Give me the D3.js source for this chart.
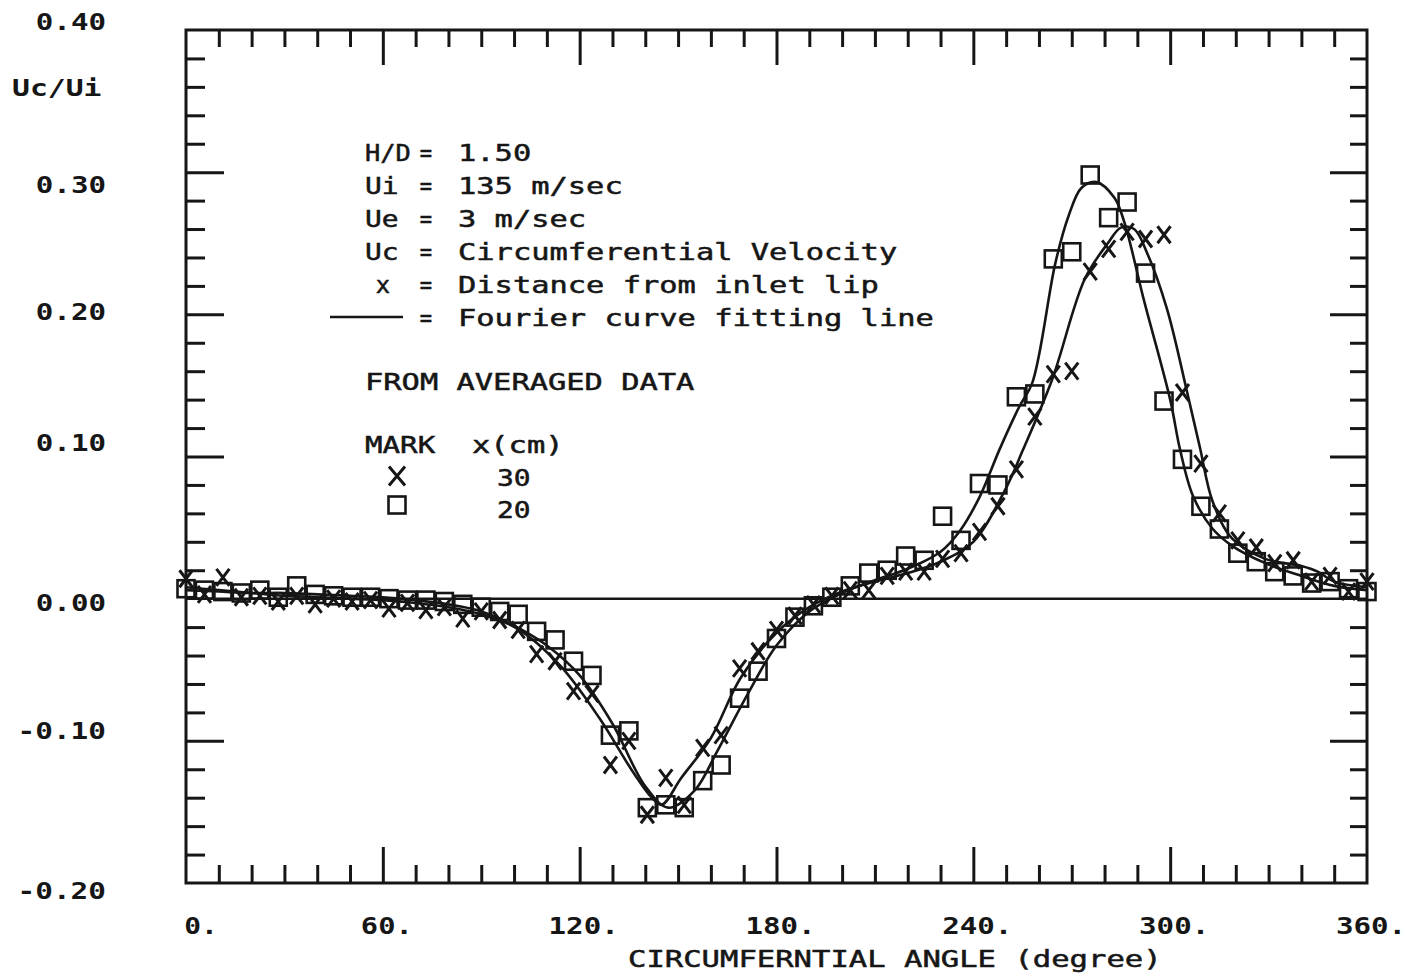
<!DOCTYPE html>
<html>
<head>
<meta charset="utf-8">
<script src="https://cdn.jsdelivr.net/npm/d3@7"></script>
<style>
  html, body { margin: 0; padding: 0; background: #fff; }
  svg { display: block; }
  text { font-family: "DejaVu Sans Mono", "Liberation Mono", monospace; fill: #161616; }
</style>
</head>
<body>
<svg id="chart" width="1405" height="979"></svg>
<script>
// ===== DATA =====
// measurement angles (degree), 64 stations round the inlet
const angles = [0, 5.625, 11.25, 16.875, 22.5, 28.125, 33.75, 39.375, 45, 50.625, 56.25, 61.875,
  67.5, 73.125, 78.75, 84.375, 90, 95.625, 101.25, 106.875, 112.5, 118.125, 123.75, 129.375,
  135, 140.625, 146.25, 151.875, 157.5, 163.125, 168.75, 174.375, 180, 185.625, 191.25, 196.875,
  202.5, 208.125, 213.75, 219.375, 225, 230.625, 236.25, 241.875, 247.5, 253.125, 258.75, 264.375,
  270, 275.625, 281.25, 286.875, 292.5, 298.125, 303.75, 309.375, 315, 320.625, 326.25, 331.875,
  337.5, 343.125, 348.75, 354.375, 360];

// x = 30 cm (X marks)
const uc30 = [0.014, 0.003, 0.015, 0.001, 0.002, -0.002, 0.002, -0.004, 0.000, -0.002, -0.001, -0.007,
  -0.003, -0.008, -0.006, -0.014, -0.009, -0.015, -0.022, -0.039, -0.044, -0.065, -0.067, -0.117,
  -0.100, -0.152, -0.126, -0.145, -0.105, -0.096, -0.049, -0.037, -0.022, -0.012, -0.004, 0.002,
  0.006, 0.006, 0.016, 0.019, 0.019, 0.028, 0.032, 0.047, 0.065, 0.091, 0.128, 0.158,
  0.160, 0.230, 0.246, 0.258, 0.253, 0.256, 0.145, 0.095, 0.060, 0.041, 0.036, 0.025,
  0.027, 0.012, 0.016, 0.005, 0.012];

// x = 20 cm (square marks)
const uc20 = [0.007, 0.006, 0.005, 0.004, 0.006, 0.001, 0.009, 0.003, 0.002, 0.001, 0.001, 0.000,
  -0.001, -0.001, -0.002, -0.004, -0.006, -0.009, -0.011, -0.023, -0.029, -0.044, -0.054, -0.096,
  -0.093, -0.147, -0.145, -0.147, -0.128, -0.117, -0.070, -0.051, -0.028, -0.013, -0.005, 0.001,
  0.009, 0.018, 0.020, 0.030, 0.027, 0.058, 0.041, 0.081, 0.080, 0.142, 0.144, 0.239,
  0.244, 0.298, 0.268, 0.279, 0.229, 0.139, 0.098, 0.065, 0.049, 0.032, 0.026, 0.019,
  0.016, 0.011, 0.012, 0.007, 0.005];

// Fourier fitting lines
const fit20Angles = [0, 10, 20, 30, 40, 50, 60, 70, 80, 90, 100, 110, 120, 130, 140, 147, 155, 162,
  171, 180, 190, 200, 210, 220, 230, 236, 242, 248, 254, 258, 265, 269, 273, 277.5, 283, 286, 292,
  300, 303, 307, 313, 319, 329, 340, 350, 360];
const fit20 = [0.006, 0.005, 0.004, 0.004, 0.003, 0.002, 0.001, -0.001, -0.004, -0.009, -0.019, -0.033,
  -0.054, -0.088, -0.132, -0.147, -0.135, -0.107, -0.068, -0.033, -0.009, 0.004, 0.013, 0.021,
  0.033, 0.048, 0.072, 0.105, 0.135, 0.152, 0.236, 0.269, 0.289, 0.293, 0.282, 0.265, 0.210,
  0.140, 0.105, 0.072, 0.049, 0.037, 0.025, 0.016, 0.009, 0.006];

const fit30Angles = [0, 10, 20, 30, 40, 50, 60, 70, 80, 90, 101, 114, 126, 136, 142, 145, 151, 160,
  169, 180, 190, 200, 210, 220, 230, 240, 250, 255, 264, 274, 281, 285, 289, 293, 299, 305, 309,
  313, 319, 329, 340, 345, 350, 360];
const fit30 = [0.008, 0.006, 0.004, 0.002, 0.001, 0.000, -0.001, -0.003, -0.006, -0.011, -0.021, -0.047,
  -0.084, -0.121, -0.140, -0.145, -0.126, -0.098, -0.056, -0.024, -0.006, 0.005, 0.012, 0.018,
  0.026, 0.040, 0.078, 0.104, 0.154, 0.225, 0.250, 0.261, 0.260, 0.243, 0.204, 0.147, 0.107,
  0.068, 0.042, 0.028, 0.023, 0.019, 0.012, 0.008];

const xTicks = [0, 60, 120, 180, 240, 300, 360];
const xTickLabels = ['0.', '60.', '120.', '180.', '240.', '300.', '360.'];
const yTicks = [0.4, 0.3, 0.2, 0.1, 0.0, -0.1, -0.2];
const yTickLabels = ['0.40', '0.30', '0.20', '0.10', '0.00', '-0.10', '-0.20'];

const legendLines = [
  ['H/D', '=', '1.50'],
  ['Ui', '=', '135 m/sec'],
  ['Ue', '=', '3 m/sec'],
  ['Uc', '=', 'Circumferential Velocity'],
  ['x', '=', 'Distance from inlet lip'],
  ['', '=', 'Fourier curve fitting line']
];

// ===== LAYOUT =====
const INK = '#161616';
const PITCH = 18.3;               // plotter character pitch
const plotLeft = 186, plotRight = 1367, plotTop = 30, plotBottom = 883;

const svg = d3.select('#chart');
const x = d3.scaleLinear().domain([0, 360]).range([plotLeft, plotRight]);
const y = d3.scaleLinear().domain([-0.2, 0.4]).range([plotBottom, plotTop]);

// fixed pitch text, stretched to the plotter cell width
function plotText(sel, str, px, py, opts = {}) {
  const t = sel.append('text')
    .attr('x', px)
    .attr('y', py)
    .attr('text-anchor', opts.anchor || 'start')
    .style('font-size', (opts.size || 23) + 'px')
    .style('font-weight', opts.weight || 'bold')
    .text(str);
  if (opts.weight === 'normal') {
    // plotter pen is a bit heavier than the regular face
    t.style('stroke', INK).style('stroke-width', 0.5);
  }
  const pitch = opts.pitch || PITCH;
  t.attr('textLength', str.length * pitch - (opts.trim ?? 3))
    .attr('lengthAdjust', 'spacingAndGlyphs');
  return t;
}

// ===== FRAME & TICKS =====
function tickAxis(axisFn, scale, values, size, transform) {
  svg.append('g')
    .attr('transform', transform)
    .call(axisFn(scale).tickValues(values).tickSize(size).tickFormat(''))
    .call(g => g.select('.domain').remove())
    .call(g => g.selectAll('line').attr('stroke', INK).attr('stroke-width', 3));
}

const xMinor = d3.range(10, 360, 10).filter(d => d % 60 !== 0);
const xMajor = [60, 120, 180, 240, 300];
const yMinor = d3.range(-0.18, 0.4, 0.02).filter(d => Math.abs(Math.round(d * 10) - d * 10) > 1e-6);
const yMajor = [-0.1, 0.1, 0.2, 0.3];

tickAxis(d3.axisTop, x, xMinor, 18, `translate(0,${plotBottom})`);
tickAxis(d3.axisTop, x, xMajor, 36, `translate(0,${plotBottom})`);
tickAxis(d3.axisBottom, x, xMinor, 17, `translate(0,${plotTop})`);
tickAxis(d3.axisBottom, x, xMajor, 35, `translate(0,${plotTop})`);
tickAxis(d3.axisRight, y, yMinor, 19, `translate(${plotLeft},0)`);
tickAxis(d3.axisRight, y, yMajor, 38, `translate(${plotLeft},0)`);
tickAxis(d3.axisLeft, y, yMinor, 17, `translate(${plotRight},0)`);
tickAxis(d3.axisLeft, y, yMajor, 37, `translate(${plotRight},0)`);

svg.append('rect')
  .attr('x', plotLeft).attr('y', plotTop)
  .attr('width', plotRight - plotLeft).attr('height', plotBottom - plotTop)
  .attr('fill', 'none').attr('stroke', INK).attr('stroke-width', 3);

// zero line
svg.append('line')
  .attr('x1', plotLeft).attr('x2', plotRight)
  .attr('y1', y(0)).attr('y2', y(0))
  .attr('stroke', INK).attr('stroke-width', 2.5);

// ===== AXIS LABELS =====
// plotter labels sit a little off their ticks
const yLabelDy = [-8, 13, -2, -14, 4, -10, 8];
yTicks.forEach((v, i) => {
  plotText(svg, yTickLabels[i], 106, y(v) + yLabelDy[i] + 8, { anchor: 'end' });
});
plotText(svg, 'Uc/Ui', 12, 96, { trim: 2 });

xTicks.forEach((v, i) => {
  const dx = v === 0 ? 15 : 4;
  plotText(svg, xTickLabels[i], x(v) + dx, 934, { anchor: 'middle' });
});
plotText(svg, 'CIRCUMFERNTIAL ANGLE (degree)', 628, 967, { weight: 'normal', trim: 0, pitch: 18.4 });

// ===== CURVES =====
const line = d3.line()
  .x(d => x(d[0]))
  .y(d => y(d[1]))
  .curve(d3.curveCatmullRom.alpha(0.5));

[[fit20Angles, fit20], [fit30Angles, fit30]].forEach(([a, v]) => {
  svg.append('path')
    .datum(a.map((d, i) => [d, v[i]]))
    .attr('d', line)
    .attr('fill', 'none')
    .attr('stroke', INK)
    .attr('stroke-width', 2.6);
});

// ===== MARKS =====
const SQ = 17;
function squareMark(sel, cx, cy) {
  sel.append('rect')
    .attr('x', cx - SQ / 2).attr('y', cy - SQ / 2)
    .attr('width', SQ).attr('height', SQ)
    .attr('fill', 'none').attr('stroke', INK).attr('stroke-width', 2.6);
}
function crossMark(sel, cx, cy, w = 13, h = 17) {
  sel.append('path')
    .attr('d', `M${cx - w / 2},${cy - h / 2}L${cx + w / 2},${cy + h / 2}M${cx + w / 2},${cy - h / 2}L${cx - w / 2},${cy + h / 2}`)
    .attr('fill', 'none').attr('stroke', INK).attr('stroke-width', 3);
}

const marks = svg.append('g');
angles.forEach((a, i) => squareMark(marks, x(a), y(uc20[i])));
angles.forEach((a, i) => crossMark(marks, x(a), y(uc30[i])));

// ===== LEGEND BLOCK =====
const legend = svg.append('g');
legendLines.forEach((row, i) => {
  const by = 161 + i * 33;
  if (row[0] === 'x') {
    plotText(legend, row[0], 383, by, { anchor: 'middle', weight: 'normal', trim: 4 });
  } else if (row[0]) {
    plotText(legend, row[0], 365, by, { weight: 'normal', trim: row[0].length > 2 ? 9 : 3 });
  }
  plotText(legend, row[1], 426, by, { anchor: 'middle', weight: 'normal', trim: 6 });
  plotText(legend, row[2], 458, by, { weight: 'normal', trim: 0 });
});
legend.append('line')
  .attr('x1', 330).attr('x2', 403)
  .attr('y1', 317).attr('y2', 317)
  .attr('stroke', INK).attr('stroke-width', 2.6);

plotText(legend, 'FROM AVERAGED DATA', 365, 390, { weight: 'normal', trim: 0 });
plotText(legend, 'MARK', 365, 453, { weight: 'normal' });
plotText(legend, 'x(cm)', 472, 453, { weight: 'normal', trim: 0 });
crossMark(legend, 397, 476, 16, 19);
squareMark(legend, 397, 505);
plotText(legend, '30', 497, 486, { weight: 'normal' });
plotText(legend, '20', 497, 518, { weight: 'normal' });
</script>
</body>
</html>
